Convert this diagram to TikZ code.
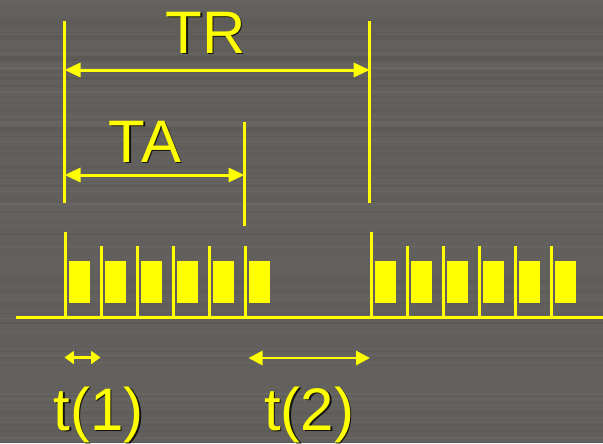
\documentclass[tikz,border=0pt]{standalone}
\usepackage{fontspec}
\setmainfont{Liberation Sans}
\usetikzlibrary{arrows.meta}
\definecolor{bg}{RGB}{98,96,92}
\definecolor{sig}{RGB}{255,255,0}
\definecolor{shade}{RGB}{20,20,18}

\begin{document}
\begin{tikzpicture}[x=0.75pt,y=-0.75pt,
  rule/.style={draw=sig, line width=2.25pt},
  dimbig/.style={draw=sig, line width=2.25pt, {Triangle[length=12pt,width=10.5pt]}-{Triangle[length=12pt,width=10.5pt]}},
  dimmid/.style={draw=sig, line width=2.1pt, {Triangle[length=10.5pt,width=10.5pt]}-{Triangle[length=10.5pt,width=10.5pt]}},
  dimsmall/.style={draw=sig, line width=2pt, {Triangle[length=7pt,width=9.5pt]}-{Triangle[length=7pt,width=9.5pt]}},
  pulse/.style={fill=sig, draw=none},
  lbl/.style={font=\fontsize{45}{54}\selectfont, text=sig, inner sep=0pt, anchor=base},
  lblshadow/.style={font=\fontsize{45}{54}\selectfont, text=shade, inner sep=0pt, anchor=base}]

% brushed-metal background
\fill[bg] (0,0) rectangle (603,443);
\useasboundingbox (0,0) rectangle (603,443);
\pgfmathsetseed{7}
\foreach \k in {1,...,140}{
  \pgfmathsetmacro{\yy}{rnd*443}
  \pgfmathsetmacro{\gg}{rnd}
  \pgfmathsetmacro{\hh}{0.8+rnd*2}
  \ifdim\gg pt<0.5pt
    \fill[white, opacity=0.02] (0,\yy) rectangle (603,\yy+\hh);
  \else
    \fill[black, opacity=0.03] (0,\yy) rectangle (603,\yy+\hh);
  \fi
}

% reference marks for the two intervals
\coordinate (trL) at (64.5,21);
\coordinate (trLb) at (64.5,203);
\coordinate (trR) at (369.7,21);
\coordinate (trRb) at (369.7,203);
\coordinate (taR) at (244.5,122);
\coordinate (taRb) at (244.5,226);
\draw[rule] (trL) -- (trLb);
\draw[rule] (trR) -- (trRb);
\draw[rule] (taR) -- (taRb);

% dimension arrows
\coordinate (trA) at (64.5,70);
\coordinate (trB) at (369.7,70);
\coordinate (taA) at (64.5,175);
\coordinate (taB) at (244.5,175);
\draw[dimbig] (trA) -- (trB);
\draw[dimbig] (taA) -- (taB);

% time axis
\coordinate (ax0) at (16,317);
\coordinate (ax1) at (603,317);
\draw[rule] (ax0) -- (ax1);

% two bursts of pulses
\foreach \x/\h in {65.3/231.7, 101.7/246, 137.7/246, 173.7/246, 209.7/246, 245.7/246,
                   371/231.7, 407.3/246, 443.3/246, 479.3/246, 515.3/246, 551.3/246}{
  \draw[rule] (\x,\h) -- (\x,317);
  \fill[pulse] (\x+3.5,260.5) rectangle (\x+24.5,303.3);
}

% durations under the axis
\coordinate (t1A) at (64.5,357.5);
\coordinate (t1B) at (100.5,357.5);
\coordinate (t2A) at (248.5,358);
\coordinate (t2B) at (370,358);
\draw[dimsmall] (t1A) -- (t1B);
\draw[dimmid] (t2A) -- (t2B);

% labels with drop shadow
\node[lblshadow] (trS) at (207,54.5) {TR};
\node[lbl] (trT) at (205.5,53) {TR};
\node[lblshadow] (taS) at (146.5,163.5) {TA};
\node[lbl] (taT) at (145,162) {TA};
\node[lblshadow] (t1S) at (100,431.5) {t(1)};
\node[lbl] (t1T) at (98.5,430) {t(1)};
\node[lblshadow] (t2S) at (310.5,431.5) {t(2)};
\node[lbl] (t2T) at (309,430) {t(2)};
\end{tikzpicture}
\end{document}
